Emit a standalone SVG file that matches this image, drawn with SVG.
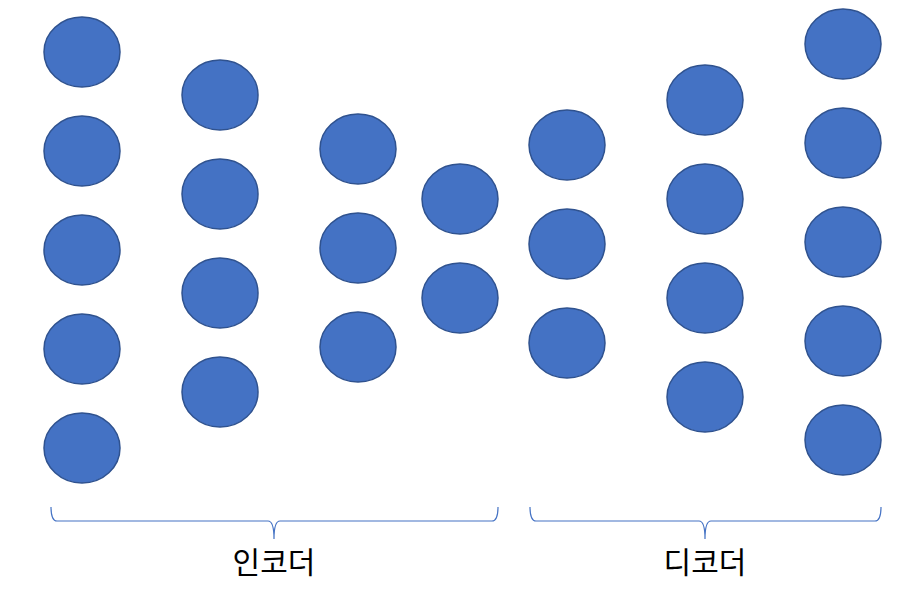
<svg xmlns="http://www.w3.org/2000/svg" width="914" height="593" viewBox="0 0 914 593">
<style>
.n{fill:#4472C4;stroke:#2F528F;stroke-width:1.5}
.b{fill:none;stroke:#4472C4;stroke-width:1.2}
.t{font-family:"Noto Sans CJK KR","Noto Sans",sans-serif;font-size:30px;fill:#000;text-anchor:middle}
</style>
<rect width="914" height="593" fill="#fff"/>
<g id="enc-l1">
<ellipse id="n1" class="n" cx="82" cy="52" rx="38" ry="35"/>
<ellipse id="n2" class="n" cx="82" cy="151" rx="38" ry="35"/>
<ellipse id="n3" class="n" cx="82" cy="250" rx="38" ry="35"/>
<ellipse id="n4" class="n" cx="82" cy="349" rx="38" ry="35"/>
<ellipse id="n5" class="n" cx="82" cy="448" rx="38" ry="35"/>
</g>
<g id="enc-l2">
<ellipse id="n6" class="n" cx="220" cy="95" rx="38" ry="35"/>
<ellipse id="n7" class="n" cx="220" cy="194" rx="38" ry="35"/>
<ellipse id="n8" class="n" cx="220" cy="293" rx="38" ry="35"/>
<ellipse id="n9" class="n" cx="220" cy="392" rx="38" ry="35"/>
</g>
<g id="enc-l3">
<ellipse id="n10" class="n" cx="358" cy="149" rx="38" ry="35"/>
<ellipse id="n11" class="n" cx="358" cy="248" rx="38" ry="35"/>
<ellipse id="n12" class="n" cx="358" cy="347" rx="38" ry="35"/>
</g>
<g id="enc-l4">
<ellipse id="n13" class="n" cx="460" cy="199" rx="38" ry="35"/>
<ellipse id="n14" class="n" cx="460" cy="298" rx="38" ry="35"/>
</g>
<g id="dec-l1">
<ellipse id="n15" class="n" cx="567" cy="145" rx="38" ry="35"/>
<ellipse id="n16" class="n" cx="567" cy="244" rx="38" ry="35"/>
<ellipse id="n17" class="n" cx="567" cy="343" rx="38" ry="35"/>
</g>
<g id="dec-l2">
<ellipse id="n18" class="n" cx="705" cy="100" rx="38" ry="35"/>
<ellipse id="n19" class="n" cx="705" cy="199" rx="38" ry="35"/>
<ellipse id="n20" class="n" cx="705" cy="298" rx="38" ry="35"/>
<ellipse id="n21" class="n" cx="705" cy="397" rx="38" ry="35"/>
</g>
<g id="dec-l3">
<ellipse id="n22" class="n" cx="843" cy="44" rx="38" ry="35"/>
<ellipse id="n23" class="n" cx="843" cy="143" rx="38" ry="35"/>
<ellipse id="n24" class="n" cx="843" cy="242" rx="38" ry="35"/>
<ellipse id="n25" class="n" cx="843" cy="341" rx="38" ry="35"/>
<ellipse id="n26" class="n" cx="843" cy="440" rx="38" ry="35"/>
</g>
<g id="connectors">
<path class="b" d="M51,507 Q51,521 57,521 L268,521 Q274,521 274,539 Q274,521 280,521 L492,521 Q498,521 498,507"/>
<path class="b" d="M530,507 Q530,521 536,521 L699,521 Q705,521 705,539 Q705,521 711,521 L875,521 Q881,521 881,507"/>
</g>
<g id="label-enc"><text class="t" x="274" y="573">인코더</text></g>
<g id="label-dec"><text class="t" x="705" y="573">디코더</text></g>
</svg>
